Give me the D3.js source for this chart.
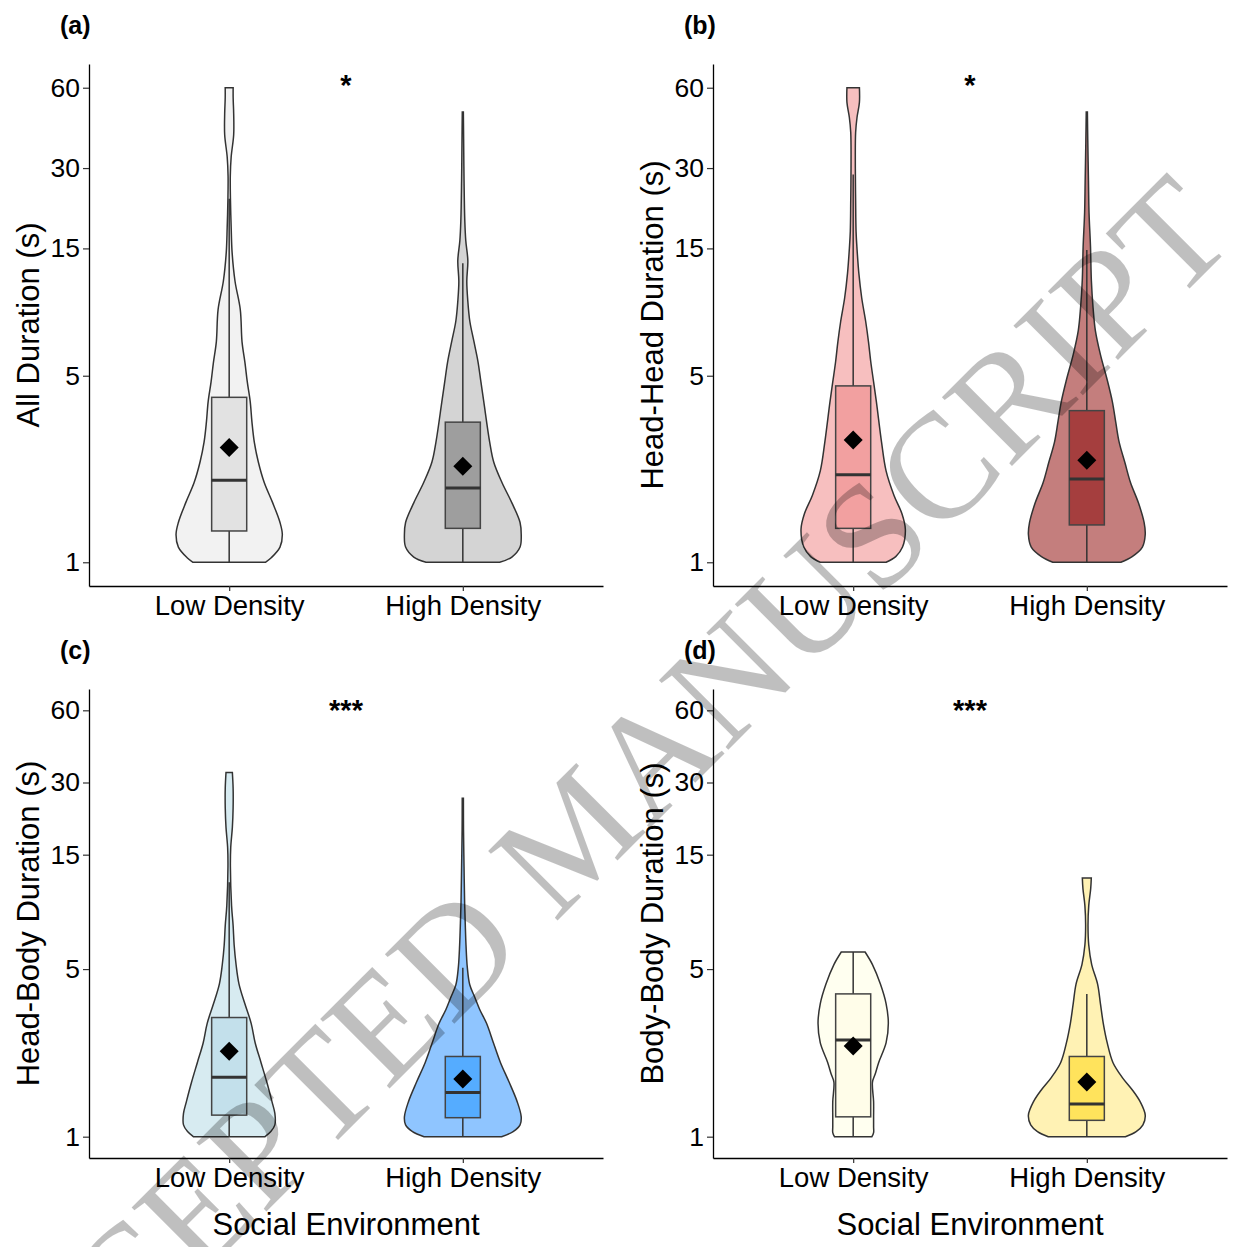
<!DOCTYPE html>
<html>
<head>
<meta charset="utf-8">
<script src="https://cdn.jsdelivr.net/npm/d3@7"></script>
<style>
  body { margin: 0; background: #fff; }
  svg text { font-family: "Liberation Sans", Arial, Helvetica, sans-serif; }
</style>
</head>
<body>
<svg id="chart" width="1235" height="1247"></svg>
<script>
let svg = d3.select('#chart');

// categories and y ticks (log scale)
let groups = ['Low Density', 'High Density'];
let yTicks = [1, 5, 15, 30, 60];
let yLimits = [1, 60];

// violin profiles: [duration (s), density]
let allLow = [[1,.62],[1.04,.72],[1.14,.87],[1.27,.91],[1.41,.87],[1.68,.74],[1.99,.60],[2.37,.50],[2.82,.43],[3.35,.39],[4,.36],[4.74,.31],[5.6,.27],[6.7,.22],[8.85,.19],[11.3,.10],[14.5,.05],[18,.034],[22.7,.022],[28,.019],[33,.034],[40,.077],[48,.077],[55,.068],[60,.068]];
let allHigh = [[1,.63],[1.046,.84],[1.14,.98],[1.27,1],[1.41,.98],[1.67,.84],[1.99,.67],[2.37,.53],[2.82,.46],[3.98,.36],[4.74,.31],[5.64,.26],[6.72,.19],[8,.12],[9.5,.086],[11.3,.068],[13.5,.086],[16,.051],[19,.034],[27,.021],[38.4,.014],[48.7,.009]];

let hhLow = [[1,.58],[1.05,.75],[1.14,.87],[1.33,.92],[1.52,.86],[1.78,.72],[2.2,.58],[2.82,.50],[3.98,.41],[4.74,.36],[5.64,.31],[6.7,.27],[8,.22],[9.8,.15],[12.1,.10],[14.9,.068],[17.3,.051],[22.7,.043],[29.8,.038],[40.8,.043],[46.5,.068],[52.9,.11],[60,.11]];
let hhHigh = [[1,.60],[1.05,.80],[1.14,.98],[1.27,1.03],[1.41,1.01],[1.67,.91],[1.99,.77],[2.37,.67],[2.82,.57],[3.35,.51],[4,.45],[4.82,.36],[6,.24],[7.4,.15],[9,.11],[11.4,.08],[15.2,.065],[20.4,.039],[27,.029],[38,.017],[48.7,.010]];

let hbLow = [[1,.62],[1.05,.72],[1.12,.79],[1.25,.79],[1.4,.74],[1.69,.65],[2.04,.55],[2.46,.45],[2.97,.38],[3.59,.27],[4.33,.17],[5.2,.12],[6.3,.086],[7.6,.068],[9.2,.041],[13.4,.021],[16.1,.027],[19.5,.055],[23.5,.068],[28.4,.068],[33,.055]];
let hbHigh = [[1,.67],[1.05,.87],[1.12,.99],[1.21,1.01],[1.4,.94],[1.69,.80],[2.04,.65],[2.46,.53],[2.97,.41],[3.4,.29],[3.8,.21],[4.3,.12],[5.1,.077],[6.3,.055],[7.6,.043],[9.5,.031],[13.4,.021],[19,.012],[25.8,.010]];

let bbLow = [[1,.33],[1.04,.36],[1.1,.36],[1.21,.36],[1.4,.36],[1.69,.34],[1.83,.39],[2.04,.45],[2.46,.58],[2.97,.62],[3.59,.58],[4.33,.48],[5.22,.34],[5.89,.21]];
let bbHigh = [[1,.68],[1.05,.87],[1.12,.99],[1.23,1.03],[1.4,.94],[1.57,.80],[1.76,.63],[2.04,.46],[2.46,.36],[2.97,.29],[3.59,.24],[4.33,.19],[5.22,.086],[6.3,.034],[7.6,.021],[9.2,.034],[10.8,.068],[12,.079]];

// box stats: [lower whisker, q1, median, q3, upper whisker, mean]
let allBox = [[1, 1.31, 2.03, 4.15, 23, 2.69], [1, 1.34, 1.90, 3.35, 13.2, 2.29]];
let hhBox = [[1, 1.34, 2.13, 4.58, 28.4, 2.87], [1, 1.38, 2.05, 3.70, 14.8, 2.41]];
let hbBox = [[1, 1.23, 1.77, 3.14, 11.5, 2.27], [1, 1.20, 1.53, 2.16, 5.07, 1.74]];
let bbBox = [[1, 1.21, 2.53, 3.94, 5.89, 2.39], [1, 1.17, 1.37, 2.16, 3.94, 1.69]];

let panels = [
  {tag: '(a)', title: 'All Duration (s)', sig: '*', col: 0, row: 0,
   violins: [allLow, allHigh], boxes: allBox,
   fill: ['#f2f2f2', '#d4d4d4'], boxFill: ['#e2e2e2', '#9e9e9e']},
  {tag: '(b)', title: 'Head-Head Duration (s)', sig: '*', col: 1, row: 0,
   violins: [hhLow, hhHigh], boxes: hhBox,
   fill: ['#f7bfbf', '#c47e7d'], boxFill: ['#f2a0a0', '#a53e3e']},
  {tag: '(c)', title: 'Head-Body Duration (s)', sig: '***', col: 0, row: 1,
   violins: [hbLow, hbHigh], boxes: hbBox,
   fill: ['#d7ebf1', '#8fc5ff'], boxFill: ['#c3e0eb', '#55acff']},
  {tag: '(d)', title: 'Body-Body Duration (s)', sig: '***', col: 1, row: 1,
   violins: [bbLow, bbHigh], boxes: bbBox,
   fill: ['#fffff0', '#fff2b4'], boxFill: ['#fffde9', '#ffe35c']}
];

// layout of the 2x2 grid
let colX = [89, 713];
let plotW = 514;
let rowY = [[64, 586], [689, 1158]];

panels.forEach(drawPanel);
drawWatermark();

function drawPanel(p) {
  let x0 = colX[p.col], x1 = x0 + plotW;
  let top = rowY[p.row][0], bottom = rowY[p.row][1];
  let g = svg.append('g');

  // discrete x with ggplot-like 0.6 expansion
  let x = d3.scalePoint().domain(groups).range([x0, x1]).padding(0.6);
  // log y with 5% expansion of the limits
  let lg = Math.log(yLimits[1] / yLimits[0]);
  let y = d3.scaleLog()
    .domain([yLimits[0] * Math.exp(-0.05 * lg), yLimits[1] * Math.exp(0.05 * lg)])
    .range([bottom, top]);
  // violin half-width, widest violin in the panel gets width 0.5
  let maxDens = d3.max(p.violins, v => d3.max(v, d => d[1]));
  let w = d3.scaleLinear().domain([0, maxDens]).range([0, x.step() * 0.25]);
  let boxHalf = x.step() * 0.075;

  groups.forEach((grp, i) => {
    let cx = x(grp);
    let area = d3.area()
      .curve(d3.curveCatmullRom.alpha(0.5))
      .y(d => y(d[0]))
      .x0(d => cx - w(d[1]))
      .x1(d => cx + w(d[1]));

    g.append('path')
      .attr('d', area(p.violins[i]))
      .attr('fill', p.fill[i])
      .attr('stroke', '#333')
      .attr('stroke-width', 1.5);

    let b = p.boxes[i];
    // whiskers
    g.append('line').attr('x1', cx).attr('x2', cx).attr('y1', y(b[3])).attr('y2', y(b[4]))
      .attr('stroke', '#333').attr('stroke-width', 1.5);
    g.append('line').attr('x1', cx).attr('x2', cx).attr('y1', y(b[0])).attr('y2', y(b[1]))
      .attr('stroke', '#333').attr('stroke-width', 1.5);
    // box
    g.append('rect')
      .attr('x', cx - boxHalf).attr('width', boxHalf * 2)
      .attr('y', y(b[3])).attr('height', y(b[1]) - y(b[3]))
      .attr('fill', p.boxFill[i])
      .attr('stroke', '#444').attr('stroke-width', 1.5);
    // median
    g.append('line').attr('x1', cx - boxHalf).attr('x2', cx + boxHalf)
      .attr('y1', y(b[2])).attr('y2', y(b[2]))
      .attr('stroke', '#333').attr('stroke-width', 3);
    // mean
    g.append('path')
      .attr('d', d3.symbol(d3.symbolSquare, 180)())
      .attr('transform', `translate(${cx},${y(b[5])}) rotate(45)`)
      .attr('fill', '#000');
  });

  // axes
  let yAxis = g.append('g')
    .attr('transform', `translate(${x0},0)`)
    .call(d3.axisLeft(y).tickValues(yTicks).tickFormat(d3.format('d')).tickSize(6).tickSizeOuter(0).tickPadding(3));
  let xAxis = g.append('g')
    .attr('transform', `translate(0,${bottom})`)
    .call(d3.axisBottom(x).tickSize(5).tickSizeOuter(0).tickPadding(4));

  [yAxis, xAxis].forEach(ax => {
    ax.select('.domain').attr('stroke', '#000').attr('stroke-width', 1.3);
    ax.selectAll('.tick line').attr('stroke', '#333').attr('stroke-width', 1.2);
    ax.selectAll('.tick text')
      .attr('fill', '#000')
      .style('font-family', '"Liberation Sans", Arial, sans-serif');
  });
  yAxis.selectAll('.tick text').style('font-size', '26.5px');
  xAxis.selectAll('.tick text').style('font-size', '27.5px');

  // y title
  g.append('text')
    .attr('transform', `translate(${x0 - 50},${(top + bottom) / 2}) rotate(-90)`)
    .attr('text-anchor', 'middle')
    .style('font-size', '31px')
    .text(p.title);

  // x title only on the bottom row
  if (p.row === 1) {
    g.append('text')
      .attr('x', (x0 + x1) / 2)
      .attr('y', bottom + 77)
      .attr('text-anchor', 'middle')
      .style('font-size', '31px')
      .text('Social Environment');
  }

  // panel tag
  g.append('text')
    .attr('x', x0 - 29)
    .attr('y', top - 30)
    .style('font-size', '25px')
    .style('font-weight', 'bold')
    .text(p.tag);

  // significance stars between the groups
  g.append('text')
    .attr('x', (x(groups[0]) + x(groups[1])) / 2)
    .attr('y', top + 31)
    .attr('text-anchor', 'middle')
    .style('font-size', '29px')
    .style('font-weight', 'bold')
    .text(p.sig);
}

function drawWatermark() {
  svg.append('text')
    .attr('transform', 'translate(574,834) rotate(-45)')
    .attr('text-anchor', 'middle')
    .attr('dy', '0.33em')
    .style('font-family', '"Liberation Serif", "Times New Roman", serif')
    .style('font-size', '150px')
    .attr('fill', '#000')
    .attr('fill-opacity', 0.25)
    .text('ACCEPTED MANUSCRIPT');
}
</script>
</body>
</html>
